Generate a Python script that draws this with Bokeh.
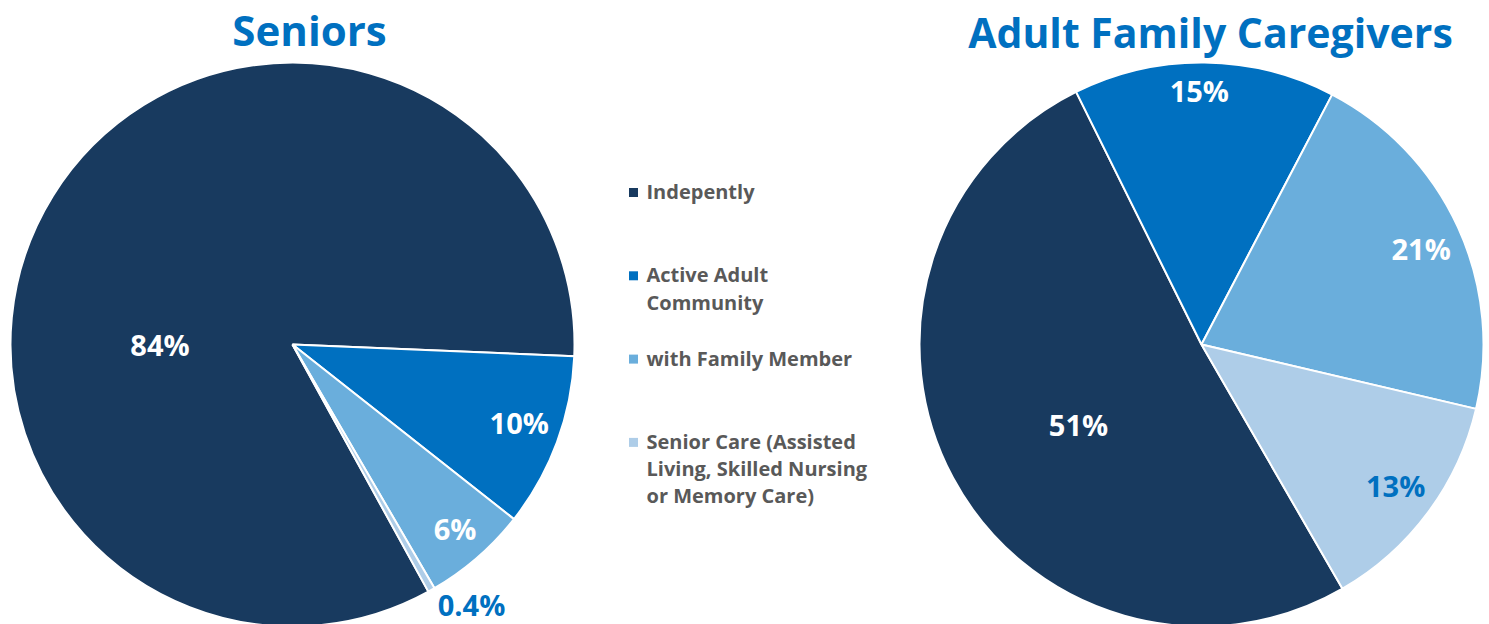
import math
from bokeh.plotting import figure
from bokeh.models import Range1d, ColumnDataSource
from bokeh.core.properties import value
from bokeh.embed import file_html
from bokeh.resources import INLINE

# ---------------- data ----------------
categories = ["Indepently", "Active Adult\nCommunity", "with Family Member",
              "Senior Care (Assisted\nLiving, Skilled Nursing\nor Memory Care)"]
seniors = [84, 10, 6, 0.4]
caregivers = [51, 15, 21, 13]
titles = ["Seniors", "Adult Family Caregivers"]

# ---------------- style / layout ----------------
colors = ["#183A5F", "#0070C0", "#6AAEDC", "#AECDE8"]
label_colors = [["white", "white", "white", "#0070C0"],
                ["white", "white", "white", "#0070C0"]]
W, H = 1489, 624
FONT = "Open Sans"
R = 282
centers = [(292, H - 344), (1201, H - 344)]
first_angles = [-61.2, -60.0]  # start angle (deg, math) of first slice, slices go clockwise
# per-slice (angle nudge deg, radius fraction) for data labels
label_layout = [[(31.8, 0.47), (1.4, 0.85), (0.5, 0.87), (5.0, 1.12)],
                [(4.8, 0.52), (1.1, 0.90), (-1.0, 0.85), (0.7, 0.85)]]
title_pos = [(309, H - 29), (1210, H - 31)]

p = figure(width=W, height=H, x_range=Range1d(0, W), y_range=Range1d(0, H),
           output_backend="svg", toolbar_location=None, min_border=0)
p.axis.visible = False
p.grid.visible = False
p.outline_line_color = None
p.background_fill_color = "white"
p.border_fill_color = "white"

for ci, vals in enumerate([seniors, caregivers]):
    total = sum(vals)
    cx, cy = centers[ci]
    a0 = first_angles[ci]
    starts, ends, lx, ly, txt = [], [], [], [], []
    for i, v in enumerate(vals):
        span = 360.0 * v / total
        st, en = a0 - span, a0
        starts.append(st)
        ends.append(en)
        mid = (st + en) / 2 + label_layout[ci][i][0]
        rr = R * label_layout[ci][i][1]
        lx.append(cx + rr * math.cos(math.radians(mid)))
        ly.append(cy + rr * math.sin(math.radians(mid)))
        txt.append(("%g" % v) + "%")
        a0 -= span
    src = ColumnDataSource(dict(start=starts, end=ends, color=colors,
                                x=[cx] * 4, y=[cy] * 4))
    p.wedge(x="x", y="y", radius=R, start_angle="start", end_angle="end",
            start_angle_units="deg", end_angle_units="deg",
            fill_color="color", line_color="white", line_width=2, source=src)
    lsrc = ColumnDataSource(dict(x=lx, y=ly, t=txt, c=label_colors[ci]))
    p.text(x="x", y="y", text="t", text_color="c", source=lsrc,
           text_font=value(FONT), text_font_style="bold", text_font_size="29px",
           text_align="center", text_baseline="middle")
    tx, ty = title_pos[ci]
    p.text(x=[tx], y=[ty], text=[titles[ci]], text_color="#0070C0",
           text_font=value(FONT), text_font_style="bold",
           text_font_size="42px" if ci == 0 else "41px",
           text_align="center", text_baseline="middle")

# legend
leg_y = [H - (192 + i * 83.3) for i in range(len(categories))]
p.scatter(x=[633] * 4, y=leg_y, marker="square", size=9, fill_color=colors,
          line_color=None)
p.text(x=[646] * 4, y=[y + 14.5 for y in leg_y], text=categories, text_color="#595959",
       text_font=value(FONT), text_font_style="bold", text_font_size="20px",
       text_align="left", text_baseline="top", text_line_height=1.01)

open("out.html", "w").write(file_html(p, INLINE))
